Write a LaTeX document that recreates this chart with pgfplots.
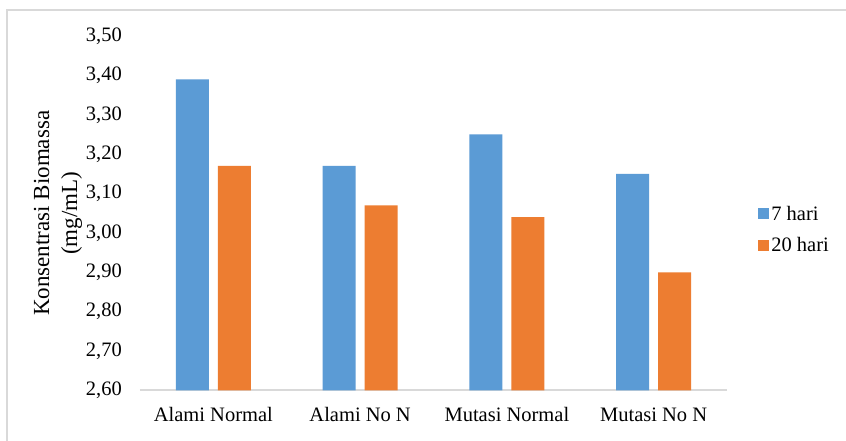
\documentclass[border=0pt]{standalone}
\usepackage{fontspec}
\setmainfont{Liberation Serif}
\usepackage{pgfplots}
\pgfplotsset{compat=1.18}

\definecolor{hariA}{HTML}{5B9BD5}
\definecolor{hariB}{HTML}{ED7D31}
\definecolor{frameGray}{HTML}{D9D9D9}

\begin{document}
\begin{tikzpicture}
\fill[white] (-140pt,-50.5pt) rectangle (706pt,390.5pt);
% chart frame (top and left edges)
\draw[frameGray, line width=2pt] (-133pt,-50.5pt) -- (-133pt,380.5pt) -- (706pt,380.5pt);
\begin{axis}[
  at={(0,0)}, anchor=south west,
  scale only axis,
  width=587pt, height=354.5pt,
  xmin=-0.5, xmax=3.5,
  ymin=2.6, ymax=3.5,
  ytick={2.6,2.7,...,3.51},
  xtick={0,1,2,3},
  xticklabels={Alami Normal, Alami No N, Mutasi Normal, Mutasi No N},
  axis lines*=left,
  y axis line style={draw=none},
  x axis line style={draw=frameGray, line width=2pt, -},
  major tick length=0pt,
  /pgf/number format/assume math mode=true,
  yticklabel={\pgfmathprintnumber[fixed,fixed zerofill,precision=2,use comma]{\tick}},
  yticklabel style={font=\fontsize{20.5}{24}\selectfont, anchor=east, inner sep=0pt, xshift=-18pt},
  xticklabel style={font=\fontsize{20.5}{24}\selectfont, anchor=north, inner sep=0pt, yshift=-17pt},
  ylabel={Konsentrasi Biomassa\\(mg/mL)},
  ylabel style={font=\fontsize{23}{28}\selectfont, align=center, at={(axis description cs:-0.1397,0.5)}, anchor=center, rotate=0},
  legend style={draw=none, fill=none, at={(axis description cs:1.053,0.454)}, anchor=west,
    font=\fontsize{20.5}{24}\selectfont, row sep=12pt, inner sep=0pt,
    nodes={inner sep=2pt}},
  legend cell align=left,
  legend image code/.code={\fill[#1] (0pt,-5.5pt) rectangle (11pt,5.5pt);},
  clip=false,
]
\addplot[ybar, bar width=33pt, bar shift=-21pt, fill=hariA, draw=none]
  coordinates {(0,3.39) (1,3.17) (2,3.25) (3,3.15)};
\addlegendentry{7 hari}
\addplot[ybar, bar width=33pt, bar shift=21pt, fill=hariB, draw=none]
  coordinates {(0,3.17) (1,3.07) (2,3.04) (3,2.90)};
\addlegendentry{20 hari}
\end{axis}
\pgfresetboundingbox
\useasboundingbox (-140pt,-50.5pt) rectangle (706pt,390.5pt);
\end{tikzpicture}
\end{document}
